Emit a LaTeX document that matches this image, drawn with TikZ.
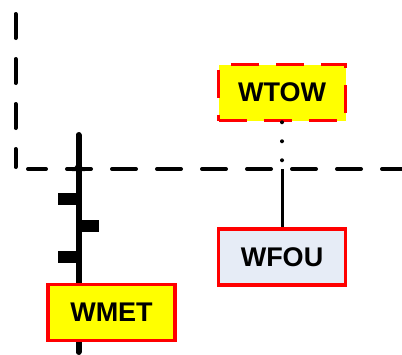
\documentclass[tikz,border=0pt]{standalone}
\usepackage{fontspec}
\setmainfont{Liberation Sans}
\usetikzlibrary{arrows.meta, positioning}
\definecolor{wxYellow}{HTML}{FFFF00}
\definecolor{wxRed}{HTML}{FF0000}
\definecolor{wxPale}{HTML}{E6ECF6}

\begin{document}
\begin{tikzpicture}[
  x=1pt, y=-1pt,
  font=\fontsize{27}{30}\selectfont\bfseries,
  guide/.style={line width=4pt, dash pattern=on 24pt off 21pt, line cap=round},
  staff/.style={line width=6pt, line cap=round},
  barb/.style={fill=black},
  wbox/.style={draw=wxRed, line width=3.5pt, minimum width=127pt, minimum height=56pt, inner sep=0pt},
  link/.style={line width=3pt},
  dotlink/.style={line width=4pt, line cap=round, dash pattern=on 0pt off 19pt}
]
  \useasboundingbox (0,0) rectangle (402,354);

  \draw[guide] (15.5,14) -- (15.5,167);
  \draw[guide, dash phase=6pt] (28,169) -- (404,169);

  \coordinate (stafftop) at (78.5,135);
  \coordinate (staffbot) at (78.5,352);
  \coordinate (cross) at (282,169);

  \draw[staff] (staffbot) -- (stafftop);
  \fill (72,171) -- (78.5,161.5) -- (85,171) -- cycle;
  \fill[barb] (58,193) rectangle (78,205);
  \fill[barb] (78,220) rectangle (98.5,232);
  \fill[barb] (58,251) rectangle (78,263);

  \node[wbox, fill=wxYellow] (wmet) at (111.5,312.5) {WMET};
  \node[wbox, fill=wxYellow, dash pattern=on 28pt off 17pt] (wtow) at (282,92.5) {WTOW};
  \node[wbox, fill=wxPale] (wfou) at (282,257) {WFOU};

  \draw[dotlink] (wtow.south) -- (cross);
  \draw[link] (cross) -- (wfou.north);
\end{tikzpicture}
\end{document}
